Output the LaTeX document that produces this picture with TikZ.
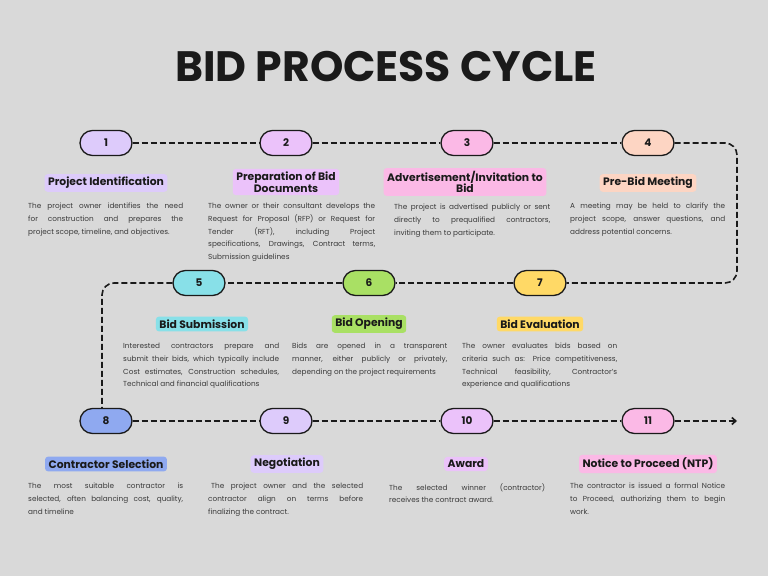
\documentclass[tikz,border=0pt]{standalone}
\usepackage{fontspec}
\setmainfont{Poppins}
\usetikzlibrary{arrows.meta}
\hyphenpenalty=10000
\exhyphenpenalty=10000
\definecolor{bg}{HTML}{D9D9D9}
\definecolor{ink}{HTML}{1A1A1A}
\definecolor{body}{HTML}{3A3A3A}
\definecolor{cA}{HTML}{DDCBFB}
\definecolor{cB}{HTML}{EBC2FA}
\definecolor{cC}{HTML}{FBB9E6}
\definecolor{cD}{HTML}{FDD5C3}
\definecolor{cE}{HTML}{88E0E8}
\definecolor{cF}{HTML}{A9E064}
\definecolor{cG}{HTML}{FFD966}
\definecolor{cH}{HTML}{8FA9F0}
\tikzset{
  pill/.style={draw=ink, line width=1.3pt, rounded corners=12.5pt, minimum width=52pt, minimum height=25pt, inner sep=0pt, font=\fontsize{10.5}{12}\selectfont\bfseries, text=ink},
  head/.style={rounded corners=3pt, inner xsep=3.5pt, inner ysep=3pt, align=center, font=\fontsize{10.8}{11.5}\selectfont\bfseries, text=ink},
  bodytext/.style={anchor=north west, inner sep=0pt, align=justify, text=body, font=\fontsize{7.3}{12.7}\selectfont},
  conn/.style={draw=ink, line width=1.6pt, dash pattern=on 6pt off 3pt},
}
\begin{document}
\begin{tikzpicture}[x=1pt,y=-1pt]
\fill[bg] (0,0) rectangle (768,576);
\useasboundingbox (0,0) rectangle (768,576);
\node[font=\fontsize{42.5}{46}\selectfont\bfseries, text=ink] (title) at (386,67) {BID PROCESS CYCLE};

% pills
\node[pill, fill=cA] (p1) at (106,143) {1};
\node[pill, fill=cB] (p2) at (286,143) {2};
\node[pill, fill=cC] (p3) at (467,143) {3};
\node[pill, fill=cD] (p4) at (648,143) {4};
\node[pill, fill=cE] (p5) at (199,283) {5};
\node[pill, fill=cF] (p6) at (369,283) {6};
\node[pill, fill=cG] (p7) at (540,283) {7};
\node[pill, fill=cH] (p8) at (106,421) {8};
\node[pill, fill=cA] (p9) at (286,421) {9};
\node[pill, fill=cB] (p10) at (467,421) {10};
\node[pill, fill=cC] (p11) at (648,421) {11};

\coordinate (c1) at (737,143);
\coordinate (c2) at (737,283);
\coordinate (c3) at (102,283);
\coordinate (c4) at (102,408);
\coordinate (endpt) at (737,421);

% connectors
\draw[conn] (p1) -- (p2);
\draw[conn] (p2) -- (p3);
\draw[conn] (p3) -- (p4);
\draw[conn, rounded corners=12pt] (p4.east) -- (c1) -- (c2) -- (p7.east);
\draw[conn] (p7) -- (p6);
\draw[conn] (p6) -- (p5);
\draw[conn, rounded corners=12pt] (p5.west) -- (c3) -- (c4);
\draw[conn] (p8) -- (p9);
\draw[conn] (p9) -- (p10);
\draw[conn] (p10) -- (p11);
\draw[conn, -{Straight Barb[length=4pt,width=7pt]}] (p11.east) -- (endpt);

% headings
\node[head, fill=cA] (h1) at (106,183) {Project Identification};
\node[head, fill=cB] (h2) at (286,182) {Preparation of Bid\\Documents};
\node[head, fill=cC] (h3) at (465,182) {Advertisement/Invitation to\\Bid};
\node[head, fill=cD] (h4) at (648,183) {Pre-Bid Meeting};
\node[head, fill=cE] (h5) at (202,324) {Bid Submission};
\node[head, fill=cF] (h6) at (369,324) {Bid Opening};
\node[head, fill=cG] (h7) at (540,324) {Bid Evaluation};
\node[head, fill=cH] (h8) at (106,464) {Contractor Selection};
\node[head, fill=cA] (h9) at (287,464) {Negotiation};
\node[head, fill=cB] (h10) at (466,464) {Award};
\node[head, fill=cC] (h11) at (648,464) {Notice to Proceed (NTP)};

% body texts
\node[bodytext, text width=155pt] (b1) at (28,203) {The project owner identifies the need\linebreak for construction and prepares the\linebreak project scope, timeline, and objectives.};
\node[bodytext, text width=167pt] (b2) at (208,203) {The owner or their consultant develops the\linebreak Request for Proposal (RFP) or Request for\linebreak Tender (RFT), including Project\linebreak specifications, Drawings, Contract terms,\linebreak Submission guidelines};
\node[bodytext, text width=156pt] (b3) at (394,204) {The project is advertised publicly or sent\linebreak directly to prequalified contractors,\linebreak inviting them to participate.};
\node[bodytext, text width=155pt] (b4) at (570,203) {A meeting may be held to clarify the\linebreak project scope, answer questions, and\linebreak address potential concerns.};
\node[bodytext, text width=156pt] (b5) at (123,343) {Interested contractors prepare and\linebreak submit their bids, which typically include\linebreak Cost estimates, Construction schedules,\linebreak Technical and financial qualifications};
\node[bodytext, text width=155pt] (b6) at (292,343) {Bids are opened in a transparent\linebreak manner, either publicly or privately,\linebreak depending on the project requirements};
\node[bodytext, text width=155pt] (b7) at (462,343) {The owner evaluates bids based on\linebreak criteria such as: Price competitiveness,\linebreak Technical feasibility, Contractor's\linebreak experience and qualifications};
\node[bodytext, text width=155pt] (b8) at (28,483) {The most suitable contractor is\linebreak selected, often balancing cost, quality,\linebreak and timeline};
\node[bodytext, text width=155pt] (b9) at (208,483) {\hspace{3pt}The project owner and the selected\linebreak contractor align on terms before\linebreak finalizing the contract.};
\node[bodytext, text width=156pt] (b10) at (389,483) {The selected winner (contractor)\linebreak receives the contract award.};
\node[bodytext, text width=155pt] (b11) at (570,483) {The contractor is issued a formal Notice\linebreak to Proceed, authorizing them to begin\linebreak work.};
\end{tikzpicture}
\end{document}
